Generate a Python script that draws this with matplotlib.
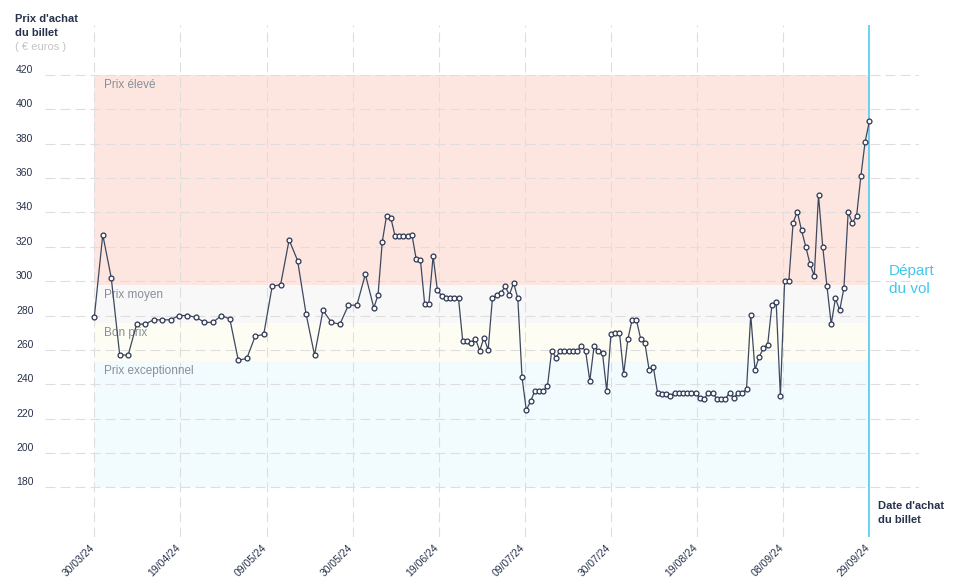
import matplotlib
matplotlib.use("Agg")
import matplotlib.pyplot as plt
from matplotlib.transforms import blended_transform_factory, ScaledTranslation

plt.rcParams['font.family'] = ['Liberation Sans', 'DejaVu Sans']

# jours depuis le 30/03/24 et prix relevés
days = [0, 2, 4, 6, 8, 10, 12, 14, 16, 18, 20, 22, 24, 26, 28, 30, 32, 34, 36, 38, 40,
        42, 44, 46, 48, 50, 52, 54, 56, 58, 60, 62, 64, 66, 67, 68, 69, 70, 71, 72, 73,
        74, 75, 76, 77, 78, 79, 80, 81, 82, 83, 84, 85, 86, 87, 88, 89, 90, 91, 92, 93,
        94, 95, 96, 97, 98, 99, 100, 101, 102, 103, 104, 105, 106, 107, 108, 109, 110,
        111, 112, 113, 114, 115, 116, 117, 118, 119, 120, 121, 122, 123, 124, 125, 126,
        127, 128, 129, 130, 131, 132, 133, 134, 135, 136, 137, 138, 139, 140, 141, 142,
        143, 144, 145, 146, 147, 148, 149, 150, 151, 152, 153, 154, 155, 156, 157, 158,
        159, 160, 161, 162, 163, 164, 165, 166, 167, 168, 169, 170, 171, 172, 173, 174,
        175, 176, 177, 178, 179, 180, 181, 182, 183]
prices = [279, 327, 302, 257, 257, 275, 275, 277.5, 277.5, 277.5, 280, 280, 279, 276, 276,
          280, 278, 254, 255, 268, 269,
          297, 298, 324, 312, 281, 257, 283, 276, 275, 286, 286, 304, 284.5, 292, 323, 338,
          337, 326.5, 326.5, 326.5, 326.5, 327, 313, 312.5, 287, 287, 314.5, 295,
          291.5, 290, 290, 290, 290, 265, 265, 264, 266.5, 259.5, 267, 260, 290, 292, 293,
          297, 292, 299, 290, 244, 225, 230, 236, 236, 236, 239, 259.5, 255.5, 259.5,
          259.5, 259.5, 259.5, 259.5, 262, 259.5, 242, 262, 259.5, 258, 236, 269.5, 270,
          270, 246, 266.5, 277.5, 277.5, 266.5, 264, 248.5, 250, 235, 234.3, 234.3, 233,
          235, 235, 235, 235, 235, 235, 232, 231.5, 235, 235, 231.5, 231.5, 231.5, 235,
          232, 235, 235, 237, 280.5, 248.5, 256, 261, 263, 286, 288, 233, 300, 300, 334,
          340.5, 329.5, 320, 310, 303, 350, 320, 297, 275, 290, 283, 296, 340, 334, 338,
          361, 381, 393]

tick_days = [0, 20.33, 40.67, 61, 81.33, 101.67, 122, 142.33, 162.67, 183]
tick_labels = ["30/03/24", "19/04/24", "09/05/24", "30/05/24", "19/06/24",
               "09/07/24", "30/07/24", "19/08/24", "08/09/24", "29/09/24"]
y_grid = [180, 200, 220, 240, 260, 280, 300, 320, 340, 360, 380, 400, 420]

# zones de prix (bas, haut, couleur, libellé)
zones = [(298, 420, "#fde6df", "Prix élevé"),
         (275.5, 298, "#f8f8f9", "Prix moyen"),
         (253.5, 275.5, "#fdfdf3", "Bon prix"),
         (180, 253.5, "#f2fcfe", "Prix exceptionnel")]

navy = "#27324b"
W, H = 958, 585
fig = plt.figure(figsize=(W / 100, H / 100), dpi=100)
ax = fig.add_axes([45 / W, 1 - 537 / H, (919 - 45) / W, (537 - 25) / H])
ax.set_xlim(-11.64, 194.73)
ax.set_ylim(151.1, 449.1)
for s in ax.spines.values():
    s.set_visible(False)

for lo, hi, col, lab in zones:
    ax.fill_between([tick_days[0], tick_days[-1]], lo, hi, color=col, lw=0, zorder=0)
    ax.text(2.4, hi - 5.8, lab, color="#8a8e98", fontsize=8.5, va="center", ha="left", zorder=3)

for v in y_grid:
    ax.axhline(v, color="#dedede", lw=0.8, dashes=(9, 4.5), zorder=1)
for d in tick_days[:-1]:
    ax.axvline(d, color="#dedede", lw=0.8, dashes=(9, 4.5), zorder=1)
ax.axvline(tick_days[-1], color="#41c6ee", lw=1.1, zorder=2)

ax.plot(days, prices, color="#3e4860", lw=0.9, marker="o", ms=3.5, mfc="white",
        mec="#2c3550", mew=0.9, zorder=4)

ax.set_yticks([])
ax.set_xticks(tick_days)
ax.set_xticklabels(tick_labels, rotation=45, ha="right", va="top", rotation_mode="anchor",
                   fontsize=7.5, color=navy)
ax.tick_params(axis="x", length=0, pad=6)
shift = ScaledTranslation(-5 / 100, 3 / 100, fig.dpi_scale_trans)
for lbl in ax.get_xticklabels():
    lbl.set_transform(lbl.get_transform() + shift)

tr = blended_transform_factory(fig.transFigure, ax.transData)
for v in y_grid:
    ax.text(16 / W, v + 2.9, str(v), transform=tr, fontsize=7.5, color=navy,
            ha="left", va="center")

fig.text(15 / W, 1 - 26 / H, "Prix d'achat\ndu billet", fontsize=8, fontweight="bold",
         color=navy, ha="left", va="center", linespacing=1.45)
fig.text(15 / W, 1 - 47 / H, "( € euros )", fontsize=8, color="#c4c4c4",
         ha="left", va="center")
fig.text(878 / W, 1 - 513 / H, "Date d'achat\ndu billet", fontsize=8, fontweight="bold",
         color=navy, ha="left", va="center", linespacing=1.45)
fig.text(889 / W, 1 - 280 / H, "Départ\ndu vol", fontsize=11, color="#41c6ee",
         ha="left", va="center", linespacing=1.4)

fig.savefig("out.png", dpi=100)
